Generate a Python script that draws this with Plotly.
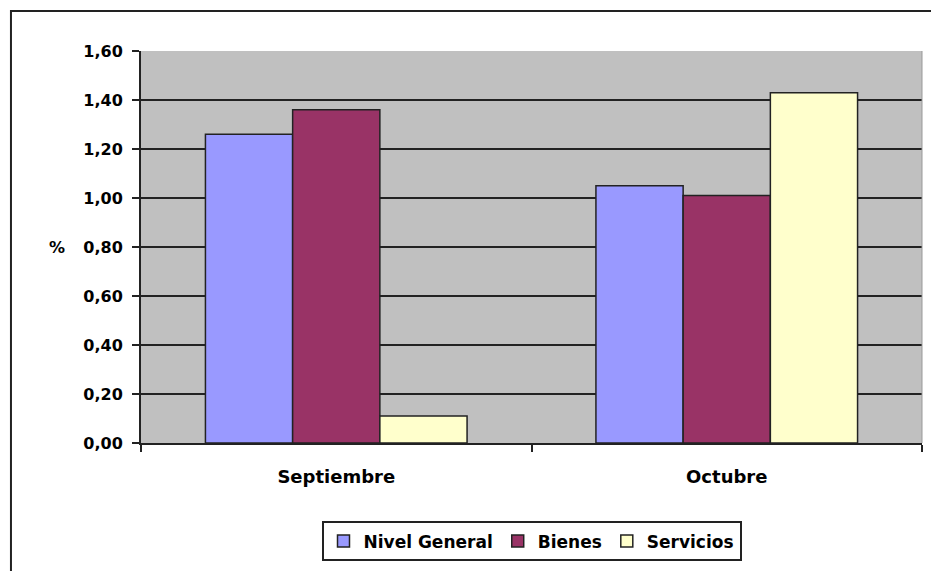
import plotly.graph_objects as go

categories = ["Septiembre", "Octubre"]
nivel_general = [1.26, 1.05]
bienes = [1.36, 1.01]
servicios = [0.11, 1.43]

series = [
    ("Nivel General", nivel_general, "#9999FF"),
    ("Bienes", bienes, "#993366"),
    ("Servicios", servicios, "#FFFFCC"),
]

FONT = "DejaVu Sans, Verdana, sans-serif"

fig = go.Figure()
for name, vals, color in series:
    fig.add_trace(go.Bar(
        x=categories,
        y=vals,
        name=name,
        marker=dict(color=color, line=dict(color="#222222", width=1.5)),
    ))

fig.update_layout(
    width=931,
    height=571,
    barmode="group",
    bargap=0.33,
    bargroupgap=0,
    margin=dict(l=141, r=9, t=51, b=126),
    paper_bgcolor="white",
    plot_bgcolor="#C0C0C0",
    font=dict(family=FONT, size=16, color="black", weight="bold"),
    showlegend=True,
    legend=dict(
        orientation="h",
        x=0.5, xanchor="center",
        y=-0.2, yanchor="top",
        bordercolor="#222222",
        borderwidth=2,
        font=dict(family=FONT, size=17, color="black", weight="bold"),
        itemwidth=30,
        tracegroupgap=0,
    ),
    xaxis=dict(
        showline=True,
        linecolor="#222222",
        linewidth=2,
        ticks="outside",
        tickson="boundaries",
        ticklen=7,
        tickwidth=2,
        tickcolor="#222222",
        ticklabelstandoff=16,
        tickfont=dict(family=FONT, size=18, color="black", weight="bold"),
        showgrid=False,
    ),
    yaxis=dict(
        range=[0, 1.6],
        dtick=0.2,
        tickformat=".2f",
        showline=True,
        linecolor="#222222",
        linewidth=2,
        ticks="outside",
        ticklen=7,
        tickwidth=2,
        tickcolor="#222222",
        showgrid=True,
        gridcolor="#222222",
        gridwidth=2,
        zeroline=False,
        ticklabelstandoff=6,
        tickfont=dict(family=FONT, size=16, color="black", weight="bold"),
    ),
    separators=",.",
    shapes=[
        dict(type="rect", xref="paper", yref="paper",
             x0=-0.1665, x1=1.2, y0=-0.5, y1=1.1018,
             line=dict(color="#222222", width=2), fillcolor="rgba(0,0,0,0)", layer="below"),
        dict(type="line", xref="paper", yref="paper",
             x0=1, x1=1, y0=0, y1=1,
             line=dict(color="#999999", width=1)),
    ],
    annotations=[
        dict(text="%", xref="paper", yref="paper", x=-0.12, y=0.50,
             showarrow=False, font=dict(family=FONT, size=16, color="black", weight="bold")),
    ],
)

fig.write_html(
    "out.html",
    config={"displayModeBar": False},
    post_script="document.body.style.margin='0';document.body.style.overflow='hidden';",
)
